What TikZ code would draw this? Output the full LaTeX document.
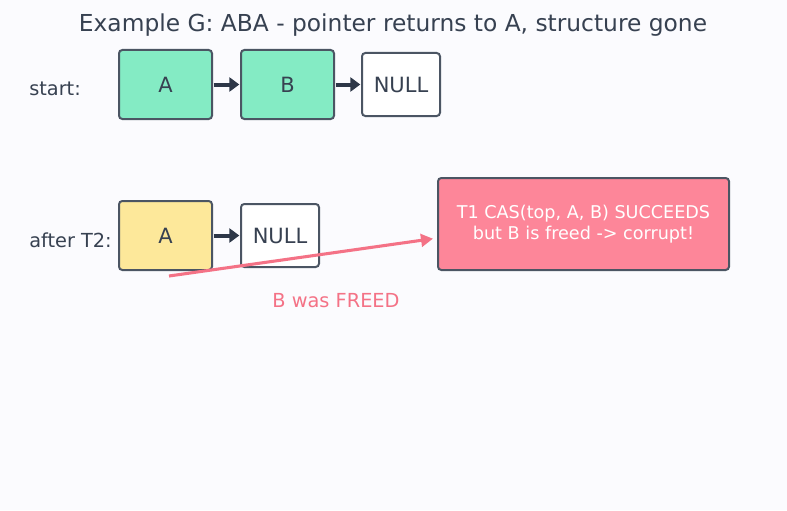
\documentclass[tikz,border=0pt]{standalone}
\usepackage{fontspec}
\setmainfont{DejaVu Sans}
\usepackage{tikz}
\usetikzlibrary{arrows.meta}
\definecolor{ababack}{RGB}{251, 251, 254}
\definecolor{abatext}{RGB}{55, 65, 81}
\definecolor{ababorder}{RGB}{75, 85, 99}
\definecolor{abaarrow}{RGB}{45, 55, 72}
\definecolor{abagreen}{RGB}{132, 235, 196}
\definecolor{abayellow}{RGB}{253, 232, 154}
\definecolor{abared}{RGB}{253, 134, 153}
\definecolor{abarose}{RGB}{244, 114, 134}

\tikzset{
    cell/.style={draw=ababorder, line width=1.5pt, rounded corners=2.5pt,
        minimum width=69.75pt, minimum height=51.75pt, inner sep=0pt,
        font=\fontsize{15.75}{18}\selectfont, text=abatext},
    nullcell/.style={cell, fill=white, minimum width=58.5pt, minimum height=47.25pt},
    link/.style={line width=3pt, color=abaarrow, -{Triangle[length=7.5pt, width=10.5pt]}, shorten <=0.5pt, shorten >=0.5pt},
    rowlabel/.style={anchor=west, inner sep=0pt, font=\fontsize{14.5}{17}\selectfont, text=abatext}
}

\begin{document}
\begin{tikzpicture}[x=0.75pt, y=-0.75pt]
    % Background and page size
    \fill[ababack] (0,0) rectangle (787,510);
    \useasboundingbox (0,0) rectangle (787,510);

    % Title
    \node[font=\fontsize{17.5}{20}\selectfont, text=abatext] (title) at (393,25) {Example G: ABA - pointer returns to A, structure gone};

    % Row 1: start
    \node[rowlabel] (startlbl) at (29,89) {start:};
    \node[cell, fill=abagreen] (a1) at (165.5,84.5) {A};
    \node[cell, fill=abagreen] (b1) at (287.5,84.5) {B};
    \node[nullcell] (null1) at (401,84.5) {NULL};
    \draw[link] (a1) -- (b1);
    \draw[link] (b1) -- (null1);

    % Row 2: after T2
    \node[rowlabel] (afterlbl) at (29,240) {after T2:};
    \node[cell, fill=abayellow] (a2) at (165.5,235.5) {A};
    \node[nullcell] (null2) at (280,235.5) {NULL};
    \draw[link] (a2) -- (null2);

    % CAS result
    \node[draw=ababorder, line width=1.5pt, rounded corners=2.5pt, fill=abared,
        minimum width=218.25pt, minimum height=69pt, align=center,
        font=\fontsize{13.2}{15.5}\selectfont, text=white] (cas) at (583.5,224)
        {T1 CAS(top, A, B) SUCCEEDS\\but B is freed -> corrupt!};

    % Freed pointer
    \coordinate (freed) at (169,276);
    \draw[line width=2.3pt, color=abarose, -{Triangle[length=9pt, width=9.5pt]}]
        (freed) -- ([xshift=-3pt, yshift=-11pt]cas.west);
    \node[font=\fontsize{14.5}{17}\selectfont, text=abarose] (freedlbl) at (336,301) {B was FREED};
\end{tikzpicture}
\end{document}
